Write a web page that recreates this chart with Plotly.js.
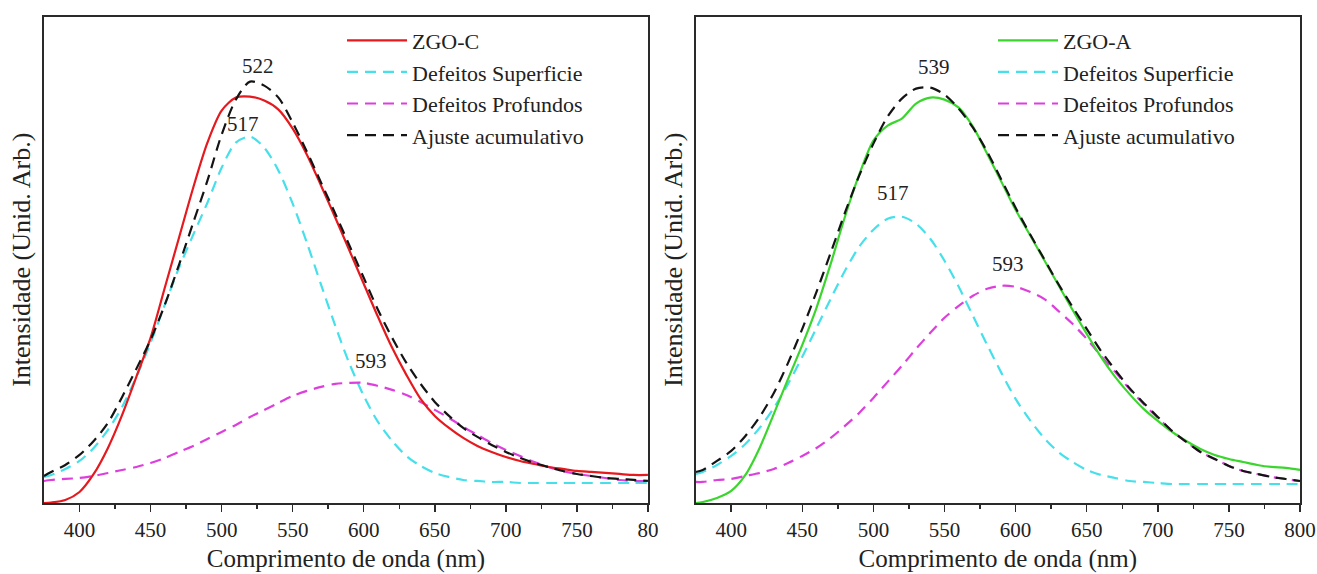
<!DOCTYPE html>
<html>
<head>
<meta charset="utf-8">
<script src="https://cdn.plot.ly/plotly-3.0.1.min.js"></script>
<style>html,body{margin:0;padding:0;background:#fff;}#chart{width:1317px;height:574px;}</style>
</head>
<body>
<div id="chart"></div>
<script>
// Wavelength grid (nm)
const wavelength = [375,380,390,400,410,420,430,440,450,460,470,480,490,500,510,520,530,540,550,560,570,580,590,600,610,620,630,640,650,660,670,680,690,700,710,720,730,740,750,760,770,780,790,800];

// Left panel (ZGO-C), intensity in arbitrary units
const zgoC      = [0,0.5,3,11,29,55,88,126,165,215,265,315,360,392,405,406,402,393,374,348,317,285,252,219,186,155,128,104,87,75,65,57,51,46,42,39,36,34,32,31,30,29,28,28];
const supC      = [26,28,34,42,55,73,96,126,160,198,235,268,300,335,360,366,355,332,299,260,218,177,139,107,81,62,47,37,30,26,23,22,21,21,20,20,20,20,20,20,20,20,20,20];
const profC     = [22,23,24,25,27,30,33,36,40,45,51,57,64,71,78,86,93,100,107,112,116,119,120,120,117,113,108,101,93,85,76,68,60,53,47,41,36,32,29,27,25,23,22,22];
const ajusteC   = [27,31,38,48,62,80,106,134,163,198,238,280,322,368,403,421,417,405,380,351,320,289,257,225,193,165,140,119,101,87,75,66,58,51,45,40,36,32,29,27,25,24,23,22];

// Right panel (ZGO-A)
const zgoA      = [0,1,5,12,28,55,89,124,158,195,239,286,328,362,377,384,399,405,403,395,376,349,321,293,268,243,218,193,169,146,126,109,94,82,71,62,54,48,44,41,38,36,35,33];
const supA      = [29,31,38,47,59,75,95,119,146,175,204,232,256,273,284,286,279,264,242,216,187,158,130,104,83,65,51,41,33,28,25,22,21,20,19,19,19,19,19,19,19,19,19,19];
const profA     = [21,21,23,24,27,30,34,40,47,55,65,77,90,105,121,137,154,170,185,197,207,214,217,216,211,204,192,179,164,147,131,114,99,85,72,61,51,44,37,32,29,26,24,22];
const ajusteA   = [31,33,42,52,67,86,110,140,174,211,250,290,327,359,386,404,414,415,408,394,375,351,323,295,269,244,219,196,174,152,133,115,100,86,72,61,51,44,37,32,29,26,24,22];

// Peak labels
const peakLabelsC = [{x:525.6,y:437,t:'522'},{x:515.2,y:379,t:'517'},{x:604.8,y:142,t:'593'}];
const peakLabelsA = [{x:542.7,y:436,t:'539'},{x:513.6,y:310,t:'517'},{x:594.6,y:239,t:'593'}];

// Tick labels
const tickVals = [400,450,500,550,600,650,700,750,800];
const tickTextC = ['400','450','500','550','600','650','700','750','80'];
const tickTextA = ['400','450','500','550','600','650','700','750','800'];
const minorVals = [425,475,525,575,625,675,725,775];

const COL = {red:'#e5191e', green:'#3ad62e', cyan:'#45e0ea', mag:'#dd3fdd', black:'#141414'};
const DASH = '11px,7px';

function tr(y, name, color, dash, xa, ya, leg, rank) {
  return {x: wavelength, y: y, name: name, type:'scatter', mode:'lines',
    line:{color:color, width:2.2, dash:dash, shape:'spline', smoothing:0.8},
    xaxis:xa, yaxis:ya, legend:leg, legendrank:rank, hoverinfo:'skip'};
}

const traces = [
  tr(supC,   'Defeitos Superficie', COL.cyan,  DASH, 'x','y','legend',2),
  tr(profC,  'Defeitos Profundos',  COL.mag,   DASH, 'x','y','legend',3),
  tr(zgoC,   'ZGO-C',               COL.red,   'solid', 'x','y','legend',1),
  tr(ajusteC,'Ajuste acumulativo',  COL.black, DASH, 'x','y','legend',4),
  tr(supA,   'Defeitos Superficie', COL.cyan,  DASH, 'x2','y2','legend2',2),
  tr(profA,  'Defeitos Profundos',  COL.mag,   DASH, 'x2','y2','legend2',3),
  tr(zgoA,   'ZGO-A',               COL.green, 'solid', 'x2','y2','legend2',1),
  tr(ajusteA,'Ajuste acumulativo',  COL.black, DASH, 'x2','y2','legend2',4)
];

const FONT = "'Liberation Serif', 'Times New Roman', serif";
function xax(domain, ttext, anchor) {
  return {domain:domain, range:[375,800], anchor:anchor, showline:true, mirror:true,
    linecolor:'#2a2a2a', linewidth:2, showgrid:false, zeroline:false,
    ticks:'outside', ticklen:7, tickwidth:1.5, tickcolor:'#2a2a2a',
    tickmode:'array', tickvals:tickVals, ticktext:ttext,
    tickfont:{family:FONT, size:21, color:'#222'},
    minor:{ticks:'outside', ticklen:4, tickwidth:1.5, tickcolor:'#2a2a2a', tickmode:'array', tickvals:minorVals, showgrid:false},
    title:{text:'Comprimento de onda (nm)', font:{family:FONT, size:25, color:'#222'}, standoff:8}};
}
function yax(domain, anchor) {
  return {domain:domain, range:[0,486], anchor:anchor, showline:true, mirror:true,
    linecolor:'#2a2a2a', linewidth:2, showgrid:false, zeroline:false,
    ticks:'', showticklabels:false,
    title:{text:'Intensidade (Unid. Arb.)', font:{family:FONT, size:26, color:'#222'}, standoff:4}};
}
function ann(list, xr, yr) {
  return list.map(p => ({x:p.x, y:p.y, xref:xr, yref:yr, text:p.t, showarrow:false,
    font:{family:FONT, size:21, color:'#222'}}));
}
const legStyle = {xanchor:'left', yanchor:'top', bgcolor:'rgba(0,0,0,0)', borderwidth:0,
  font:{family:FONT, size:22, color:'#222'}, itemwidth:60, tracegroupgap:0, traceorder:'normal'};

const layout = {
  width:1317, height:574, margin:{l:0,r:0,t:0,b:0},
  paper_bgcolor:'#fff', plot_bgcolor:'#fff',
  font:{family:FONT, color:'#222'},
  showlegend:true,
  xaxis: xax([0.0334,0.4920], tickTextC, 'y'),
  yaxis: yax([0.1237,0.9712], 'x'),
  xaxis2: xax([0.5282,0.9871], tickTextA, 'y2'),
  yaxis2: yax([0.1237,0.9712], 'x2'),
  legend: Object.assign({x:0.2597, y:0.966}, legStyle),
  legend2: Object.assign({x:0.754, y:0.966}, legStyle),
  annotations: ann(peakLabelsC,'x','y').concat(ann(peakLabelsA,'x2','y2'))
};

Plotly.newPlot('chart', traces, layout, {staticPlot:true, displayModeBar:false});
</script>
</body>
</html>
